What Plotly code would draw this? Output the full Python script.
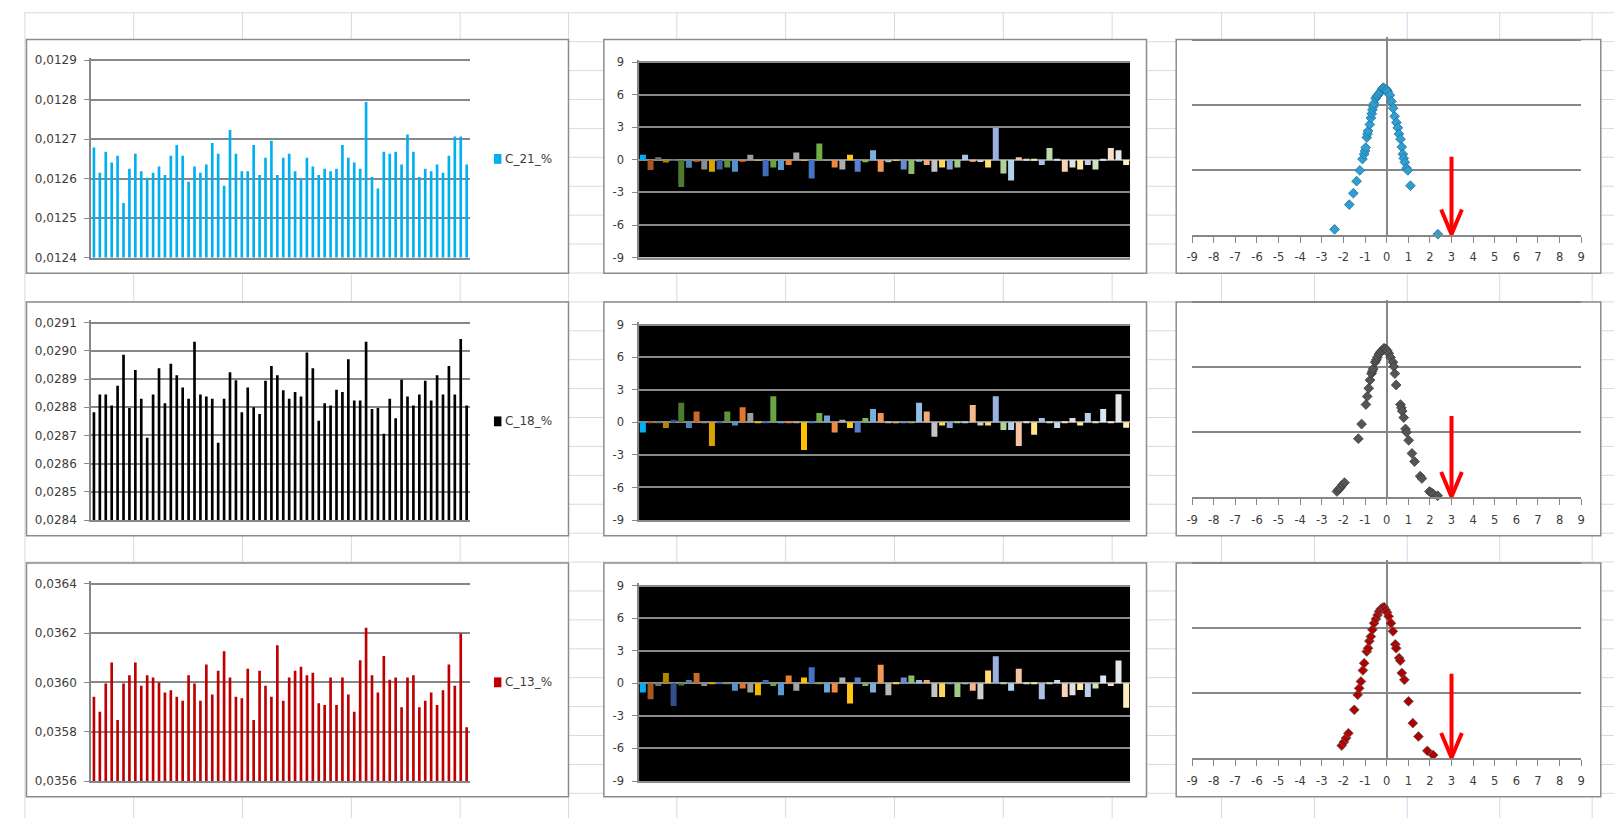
import plotly.graph_objects as go

W, H = 1618, 825

# ------------------------------------------------------------------ data
CATEGORIES = list(range(1, 65))
SERIES_NAMES = ["C_21_%", "C_18_%", "C_13_%"]

C21_PCT = [0.012679, 0.012615, 0.012668, 0.012641, 0.012658, 0.012538, 0.012625, 0.012663, 0.012619, 0.012602,
           0.012615, 0.012631, 0.012609, 0.012658, 0.012685, 0.012658, 0.012592, 0.012631, 0.012615, 0.012636,
           0.012690, 0.012663, 0.012582, 0.012723, 0.012663, 0.012619, 0.012619, 0.012685, 0.012609, 0.012653,
           0.012696, 0.012609, 0.012653, 0.012663, 0.012619, 0.012599, 0.012653, 0.012631, 0.012609, 0.012625,
           0.012619, 0.012625, 0.012685, 0.012653, 0.012641, 0.012625, 0.012794, 0.012604, 0.012575, 0.012668,
           0.012663, 0.012668, 0.012636, 0.012712, 0.012668, 0.012604, 0.012625, 0.012619, 0.012636, 0.012615,
           0.012658, 0.012707, 0.012707, 0.012636]

C18_PCT = [0.028782, 0.028845, 0.028845, 0.028806, 0.028876, 0.028986, 0.028797, 0.028932, 0.028830, 0.028692,
           0.028845, 0.028938, 0.028814, 0.028954, 0.028914, 0.028870, 0.028830, 0.029032, 0.028845, 0.028838,
           0.028830, 0.028674, 0.028830, 0.028924, 0.028896, 0.028782, 0.028870, 0.028800, 0.028776, 0.028894,
           0.028946, 0.028914, 0.028860, 0.028830, 0.028854, 0.028838, 0.028994, 0.028938, 0.028752, 0.028814,
           0.028806, 0.028862, 0.028854, 0.028970, 0.028824, 0.028824, 0.029032, 0.028794, 0.028797, 0.028706,
           0.028830, 0.028761, 0.028898, 0.028838, 0.028806, 0.028845, 0.028894, 0.028824, 0.028914, 0.028845,
           0.028946, 0.028845, 0.029042, 0.028806]

C13_PCT = [0.035942, 0.035881, 0.035995, 0.036080, 0.035847, 0.035995, 0.036029, 0.036080, 0.035986, 0.036029,
           0.036020, 0.035999, 0.035959, 0.035968, 0.035942, 0.035925, 0.036029, 0.035995, 0.035925, 0.036072,
           0.035951, 0.036047, 0.036126, 0.036020, 0.035942, 0.035935, 0.036055, 0.035847, 0.036047, 0.035986,
           0.035942, 0.036150, 0.035925, 0.036020, 0.036047, 0.036063, 0.036029, 0.036039, 0.035915, 0.035908,
           0.036020, 0.035908, 0.036020, 0.035951, 0.035881, 0.036090, 0.036221, 0.036029, 0.035959, 0.036107,
           0.036010, 0.036020, 0.035899, 0.036020, 0.036029, 0.035899, 0.035925, 0.035959, 0.035908, 0.035968,
           0.036072, 0.035986, 0.036198, 0.035818]

Z21 = [0.47, -0.94, 0.25, -0.25, -0.05, -2.5, -0.72, -0.1, -0.88, -1.1,
       -0.88, -0.7, -1.1, -0.1, 0.47, -0.05, -1.5, -0.7, -0.94, -0.47,
       0.69, -0.05, -1.72, 1.5, -0.05, -0.7, -0.88, 0.47, -1.1, -0.22,
       0.88, -1.1, -0.22, -0.05, -0.88, -1.3, -0.1, -0.47, -1.1, -0.7,
       -0.88, -0.7, 0.47, -0.15, -0.2, -0.7, 2.97, -1.25, -1.9, 0.25,
       0.05, 0.05, -0.47, 1.1, 0.05, -1.1, -0.7, -0.88, -0.47, -0.88,
       0.05, 1.1, 0.88, -0.47]

Z18 = [-0.93, 0.03, 0.03, -0.53, 0.25, 1.8, -0.53, 1.0, 0.03, -2.17,
       0.03, 1.0, -0.3, 1.4, 0.85, 0.03, 0.03, 2.4, 0.03, 0.03,
       0.03, -2.55, 0.03, 0.85, 0.62, -0.93, 0.25, -0.53, -0.93, 0.4,
       1.24, 0.85, 0.03, -0.05, 0.03, -0.05, 1.8, 1.0, -1.33, -0.3,
       -0.53, 0.03, 0.03, 1.6, -0.3, -0.3, 2.4, -0.7, -0.7, -2.17,
       0.03, -1.15, 0.4, 0.03, -0.53, 0.03, 0.4, -0.3, 0.85, 0.03,
       1.24, 0.03, 2.6, -0.5]

Z13 = [-0.84, -1.47, -0.25, 0.94, -2.1, -0.2, 0.3, 0.94, -0.25, 0.05,
       0.03, -0.05, -0.69, -0.47, -0.84, -1.1, 0.3, -0.25, -1.1, 0.72,
       -0.69, 0.53, 1.47, 0.03, -0.84, -0.84, 0.53, -1.87, 0.53, -0.25,
       -0.84, 1.72, -1.1, 0.05, 0.53, 0.72, 0.3, 0.3, -1.25, -1.25,
       -0.05, -1.25, -0.05, -0.69, -1.47, 1.19, 2.5, 0.03, -0.69, 1.34,
       0.03, 0.05, -1.47, 0.03, 0.3, -1.25, -1.1, -0.62, -1.25, -0.47,
       0.72, -0.25, 2.1, -2.25]

S21_X = [-2.41, -1.73, -1.54, -1.39, -1.24, -1.12, -1.04, -1.00, -0.97, -0.92, -0.89, -0.86, -0.78,
         -0.73, -0.69, -0.66, -0.62, -0.58, -0.51, -0.46, -0.42, -0.35, -0.28, -0.20, -0.16, -0.12,
         -0.05, 0.00, 0.05, 0.15, 0.22, 0.30, 0.37, 0.45, 0.52, 0.57, 0.64, 0.70, 0.75, 0.79, 0.84,
         0.92, 0.98, 1.10, 2.37]
S21_Y = [0.017, 0.093, 0.128, 0.165, 0.198, 0.233, 0.248, 0.258, 0.268, 0.299, 0.310, 0.319, 0.339,
         0.359, 0.372, 0.384, 0.394, 0.404, 0.419, 0.425, 0.428, 0.434, 0.441, 0.449, 0.452, 0.450,
         0.444, 0.446, 0.440, 0.429, 0.410, 0.389, 0.364, 0.345, 0.329, 0.310, 0.294, 0.270, 0.248,
         0.235, 0.223, 0.205, 0.198, 0.151, 0.002]

S18_X = [-2.30, -2.22, -2.14, -2.05, -1.95, -1.31, -1.16, -0.96, -0.90, -0.83, -0.77, -0.70, -0.66,
         -0.62, -0.53, -0.48, -0.43, -0.36, -0.28, -0.20, -0.12, -0.05, 0.03, 0.10, 0.18, 0.29, 0.33,
         0.38, 0.44, 0.64, 0.68, 0.72, 0.79, 0.87, 0.92, 1.02, 1.17, 1.29, 1.55, 1.63, 1.98, 2.08,
         2.16, 2.36]
S18_Y = [0.018, 0.024, 0.030, 0.038, 0.045, 0.180, 0.225, 0.285, 0.310, 0.335, 0.360, 0.380, 0.388,
         0.395, 0.415, 0.422, 0.430, 0.440, 0.447, 0.452, 0.458, 0.456, 0.450, 0.442, 0.430, 0.415,
         0.402, 0.380, 0.345, 0.285, 0.275, 0.265, 0.245, 0.210, 0.200, 0.175, 0.135, 0.110, 0.065,
         0.058, 0.018, 0.014, 0.010, 0.005]

S13_X = [-2.08, -1.98, -1.88, -1.77, -1.50, -1.34, -1.27, -1.19, -1.10, -1.04, -0.92, -0.86, -0.80,
         -0.73, -0.66, -0.58, -0.50, -0.42, -0.35, -0.28, -0.20, -0.12, -0.05, 0.02, 0.09, 0.20, 0.29,
         0.40, 0.44, 0.58, 0.63, 0.70, 0.82, 1.01, 1.21, 1.47, 1.88, 2.15]
S13_Y = [0.039, 0.050, 0.062, 0.077, 0.149, 0.195, 0.215, 0.236, 0.270, 0.292, 0.328, 0.338, 0.360,
         0.374, 0.395, 0.415, 0.428, 0.440, 0.451, 0.458, 0.462, 0.464, 0.456, 0.448, 0.436, 0.415,
         0.390, 0.350, 0.338, 0.308, 0.300, 0.262, 0.241, 0.175, 0.108, 0.067, 0.023, 0.010]

LEVEL_TICKS = [
    [0.0124, 0.0125, 0.0126, 0.0127, 0.0128, 0.0129],
    [0.0284, 0.0285, 0.0286, 0.0287, 0.0288, 0.0289, 0.0290, 0.0291],
    [0.0356, 0.0358, 0.0360, 0.0362, 0.0364],
]
Z_TICKS = [-9, -6, -3, 0, 3, 6, 9]
X_TICKS = list(range(-9, 10))
DENSITY_TOP = 0.6
ARROW_X = 3
ARROW_TOPS = [0.24, 0.25, 0.26]

LEVELS = [C21_PCT, C18_PCT, C13_PCT]
ZSCORES = [Z21, Z18, Z13]
SCATTERS = [(S21_X, S21_Y), (S18_X, S18_Y), (S13_X, S13_Y)]

# ------------------------------------------------------------------ style
SERIES_COLORS = ["#00B0F0", "#000000", "#C00000"]
DOT_COLORS = ["#2F9FD2", "#555555", "#B00000"]
DOT_EDGES = ["#1E7099", "#3A3A3A", "#5A5A5A"]
AX = "#878787"
SHEET = "#D3DAE8"
FONT = "DejaVu Sans"
TXT = "#3c3c3c"

FAMILIES = ["#5B9BD5", "#ED7D31", "#A5A5A5", "#FFC000", "#4472C4", "#70AD47"]
SHADES = [-0.3, -0.15, -0.05, 0.0, 0.1, 0.2, 0.35, 0.45, 0.55, 0.65, 0.75]


def shade(hex_color, t):
    r, g, b = (int(hex_color[i:i + 2], 16) for i in (1, 3, 5))
    if t < 0:
        r, g, b = r * (1 + t), g * (1 + t), b * (1 + t)
    else:
        r, g, b = r + (255 - r) * t, g + (255 - g) * t, b + (255 - b) * t
    return "#%02x%02x%02x" % (round(r), round(g), round(b))


PALETTE = [shade(FAMILIES[i % 6], SHADES[i // 6]) for i in range(len(CATEGORIES))]
PALETTE[0] = "#00B0F0"

# layout geometry (pixels)
ROW_TOP = [36, 302, 566.5]
BOX_H = 237
BOX_X = [(20.6, 566), (601.6, 1147.6), (1177.5, 1604.7)]
PLOT_X = [(85.5, 466.5), (637, 1131), (1193.5, 1585)]
PLOT_Y_OFF = [(21, 221), (23, 221), (0, 198)]   # (top, bottom) offsets of the top/bottom gridline
HEADROOM = 2.5                                  # px above the top gridline so Plotly keeps drawing it
SHEET_COLS = [19, 128.5, 238, 347.5, 457, 566, 675, 784.5, 894, 1003.5, 1113, 1223, 1316.7, 1410, 1503, 1596]


def fx(x):
    return x / W


def fy(y):
    return 1 - y / H


def padded(col, row, lo, hi):
    """y domain and range whose top gridline sits HEADROOM px below the plot edge."""
    t, b = PLOT_Y_OFF[col]
    per_px = (hi - lo) / (b - t)
    dom = [fy(ROW_TOP[row] + b), fy(ROW_TOP[row] + t - HEADROOM)]
    rng = [lo, hi + HEADROOM * per_px]
    return dom, rng


fig = go.Figure()
layout = dict(width=W, height=H, margin=dict(l=0, r=0, t=0, b=0),
              paper_bgcolor="white", plot_bgcolor="rgba(0,0,0,0)",
              showlegend=False, font=dict(family=FONT, size=12, color=TXT))
shapes = []
annotations = []

# spreadsheet grid
for cx in SHEET_COLS:
    shapes.append(dict(type="line", xref="paper", yref="paper", x0=fx(cx), x1=fx(cx), y0=0, y1=fy(8),
                       line=dict(color=SHEET, width=1), layer="below"))
k = -2
while 67.5 + 29.3 * k < H:
    yy = 67.5 + 29.3 * k
    shapes.append(dict(type="line", xref="paper", yref="paper", x0=fx(19), x1=1, y0=fy(yy), y1=fy(yy),
                       line=dict(color=SHEET, width=1), layer="below"))
    k += 1

# panel boxes
for r in range(3):
    for c in range(3):
        x0, x1 = BOX_X[c]
        shapes.append(dict(type="rect", xref="paper", yref="paper", x0=fx(x0), x1=fx(x1),
                           y0=fy(ROW_TOP[r] + BOX_H), y1=fy(ROW_TOP[r]),
                           fillcolor="white", line=dict(color="#8C8C8C", width=1.5), layer="below"))

tickfont = dict(family=FONT, size=11.5, color=TXT)

for r in range(3):
    top = ROW_TOP[r]
    # ---------- column 1: level bars
    n = r * 3 + 1
    xa, ya = ("x" if n == 1 else f"x{n}"), ("y" if n == 1 else f"y{n}")
    ticks = LEVEL_TICKS[r]
    dom, rng = padded(0, r, ticks[0], ticks[-1])
    fig.add_trace(go.Bar(x=CATEGORIES, y=LEVELS[r], name=SERIES_NAMES[r], width=0.45,
                         marker=dict(color=SERIES_COLORS[r], line=dict(width=0)),
                         xaxis=xa, yaxis=ya))
    layout[f"xaxis{n if n > 1 else ''}"] = dict(
        domain=[fx(PLOT_X[0][0]), fx(PLOT_X[0][1])], anchor=ya, range=[0.5, 64.5],
        showticklabels=False, showgrid=False, zeroline=False, showline=True,
        linecolor=AX, linewidth=1.5, ticks="", fixedrange=True)
    layout[f"yaxis{n if n > 1 else ''}"] = dict(
        domain=dom, anchor=xa, range=rng,
        tickvals=ticks, ticktext=[f"{v:.4f}".replace(".", ",") for v in ticks],
        showgrid=True, gridcolor=AX, gridwidth=1.5, zeroline=False, showline=True, linecolor=AX,
        linewidth=1.5, ticks="outside", ticklen=5, tickcolor=AX, tickwidth=1.2,
        tickfont=dict(family=FONT, size=12, color=TXT), ticklabelstandoff=5, fixedrange=True)
    # legend
    ly = top + 121
    shapes.append(dict(type="rect", xref="paper", yref="paper", x0=fx(491), x1=fx(498.5),
                       y0=fy(ly + 5), y1=fy(ly - 5), fillcolor=SERIES_COLORS[r], line=dict(width=0)))
    annotations.append(dict(xref="paper", yref="paper", x=fx(500), y=fy(ly), text=SERIES_NAMES[r],
                            showarrow=False, xanchor="left", yanchor="middle",
                            font=dict(family=FONT, size=12, color=TXT)))

    # ---------- column 2: standardized deviations
    n = r * 3 + 2
    xa, ya = f"x{n}", f"y{n}"
    dom, rng = padded(1, r, Z_TICKS[0], Z_TICKS[-1])
    fig.add_trace(go.Bar(x=CATEGORIES, y=ZSCORES[r], name=SERIES_NAMES[r] + " z", width=0.78,
                         marker=dict(color=PALETTE, line=dict(width=0)), xaxis=xa, yaxis=ya))
    layout[f"xaxis{n}"] = dict(
        domain=[fx(PLOT_X[1][0]), fx(PLOT_X[1][1])], anchor=ya, range=[0.5, 64.5],
        showticklabels=False, showgrid=False, zeroline=False, showline=True,
        linecolor="#8A8A8A", linewidth=1.5, ticks="", fixedrange=True)
    layout[f"yaxis{n}"] = dict(
        domain=dom, anchor=xa, range=rng,
        tickvals=Z_TICKS, ticktext=[str(v) for v in Z_TICKS],
        showgrid=True, gridcolor="#8A8A8A", gridwidth=1.5, zeroline=False, showline=True,
        linecolor=AX, linewidth=1.5, ticks="outside", ticklen=5, tickcolor=AX, tickwidth=1.2,
        tickfont=tickfont, ticklabelstandoff=6, fixedrange=True)
    shapes.append(dict(type="rect", xref=f"x{n} domain", yref=f"y{n}", x0=0, x1=1,
                       y0=Z_TICKS[0], y1=Z_TICKS[-1],
                       fillcolor="black", line=dict(width=0), layer="below"))

    # ---------- column 3: density scatter
    n = r * 3 + 3
    xa, ya = f"x{n}", f"y{n}"
    dom, rng = padded(2, r, 0, DENSITY_TOP)
    sx, sy = SCATTERS[r]
    fig.add_trace(go.Scatter(x=sx, y=sy, mode="markers", name=SERIES_NAMES[r] + " pdf",
                             marker=dict(symbol="diamond", size=7.5, color=DOT_COLORS[r],
                                         line=dict(color=DOT_EDGES[r], width=0.8)),
                             cliponaxis=False, xaxis=xa, yaxis=ya))
    layout[f"xaxis{n}"] = dict(
        domain=[fx(PLOT_X[2][0]), fx(PLOT_X[2][1])], anchor=ya, range=[-9, 9],
        tickvals=X_TICKS, ticktext=[str(v) for v in X_TICKS], showgrid=False,
        zeroline=True, zerolinecolor=AX, zerolinewidth=1.5, showline=True,
        linecolor=AX, linewidth=1.5,
        ticks="outside", ticklen=6, tickcolor=AX, tickwidth=1.2, tickfont=tickfont,
        ticklabelstandoff=5, fixedrange=True)
    layout[f"yaxis{n}"] = dict(
        domain=dom, anchor=xa, range=rng, tickvals=[0.2, 0.4, 0.6],
        showgrid=True, gridcolor=AX, gridwidth=1.5, showticklabels=False, zeroline=False,
        showline=False, ticks="", fixedrange=True)
    # threshold arrow at x = 3
    at = ARROW_TOPS[r]
    shapes.append(dict(type="line", xref=xa, yref=ya, x0=ARROW_X, x1=ARROW_X, y0=at, y1=0.006,
                       line=dict(color="#FF0000", width=4)))
    shapes.append(dict(type="path", xref=xa, yref=ya,
                       path=f"M {ARROW_X - 0.48},0.078 L {ARROW_X},0.002 L {ARROW_X + 0.48},0.078",
                       line=dict(color="#FF0000", width=4)))

layout["shapes"] = shapes
layout["annotations"] = annotations
fig.update_layout(**layout)

fig.write_html("out.html", config={"displayModeBar": False},
               post_script="document.body.style.margin='0';document.body.style.overflow='hidden';")
